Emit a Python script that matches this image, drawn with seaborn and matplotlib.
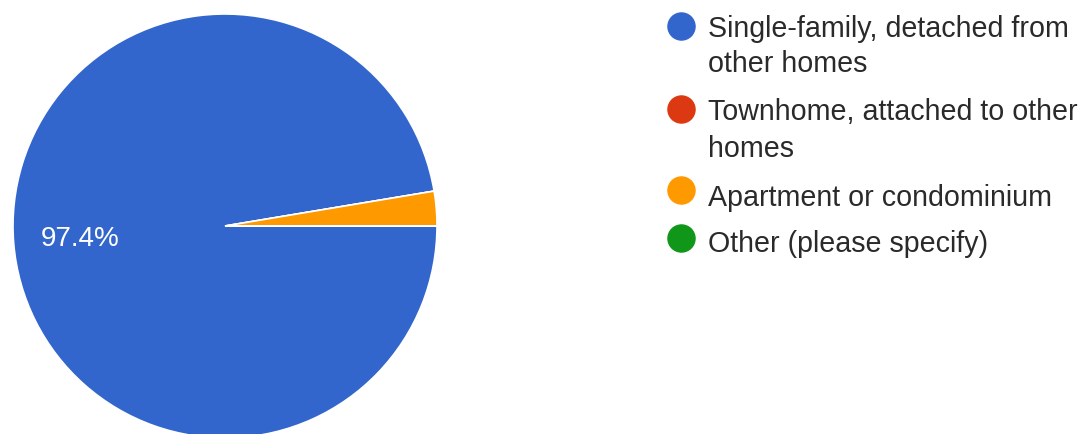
import matplotlib
matplotlib.use("Agg")
import matplotlib.pyplot as plt
import seaborn as sns
from matplotlib.lines import Line2D

categories = ["Single-family, detached from\nother homes",
              "Townhome, attached to other\nhomes",
              "Apartment or condominium",
              "Other (please specify)"]
counts = [37, 0, 1, 0]
colors = ["#3366CC", "#DC3912", "#FF9900", "#109618"]

sns.set_theme(style="white")
plt.rcParams['font.family'] = ['Liberation Sans', 'DejaVu Sans']

W, H = 1082, 435
fig = plt.figure(figsize=(W / 100, H / 100), dpi=100)

# pie axes: centre (225, 227) px, radius 212 px
cx, cy, r = 225, 227, 212
ax = fig.add_axes([(cx - r) / W, (H - cy - r) / H, 2 * r / W, 2 * r / H])

def fmt(p):
    return f"{p:.1f}%" if p > 5 else ""

wedges, texts, autotexts = ax.pie(
    counts, colors=colors, startangle=0, counterclock=False,
    autopct=fmt, pctdistance=0.685,
    wedgeprops=dict(edgecolor="white", linewidth=1.2),
    textprops=dict(color="white", fontsize=20))
ax.set_xlim(-1, 1)
ax.set_ylim(-1, 1)
ax.set_aspect("equal")
ax.axis("off")

# legend drawn manually to match the wrapped layout
marker_y = [27, 109.5, 190.5, 238.5]
line_baselines = [[37, 72.5], [120, 157], [206], [252]]
mx, tx = 681, 708
for lab, col, my, bls in zip(categories, colors, marker_y, line_baselines):
    fig.add_artist(Line2D([mx / W], [1 - my / H], marker="o", markersize=19.5,
                          markerfacecolor=col, markeredgecolor=col,
                          linestyle="none", transform=fig.transFigure))
    for line, bl in zip(lab.split("\n"), bls):
        fig.text(tx / W, 1 - bl / H, line, fontsize=20.6, color="#2a2a2a",
                 ha="left", va="baseline")

fig.savefig("out.png", dpi=100, facecolor="white")
